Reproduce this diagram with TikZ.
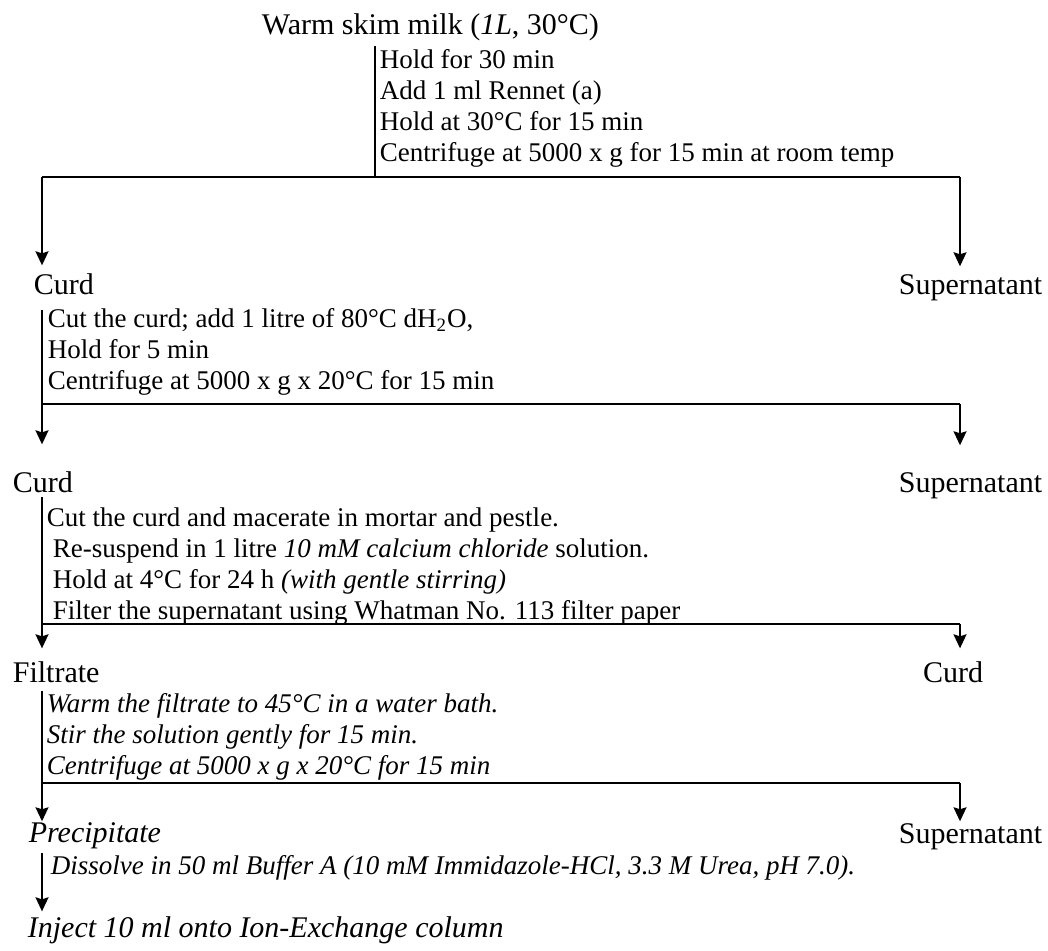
\documentclass[tikz,border=0pt]{standalone}
\usepackage{fontspec}
\setmainfont{Liberation Serif}
\usetikzlibrary{arrows.meta}

\newcommand{\prodfont}{\fontsize{15}{18}\selectfont}
\newcommand{\stepfont}{\fontsize{13.5}{15.5}\selectfont}

\begin{document}
\begin{tikzpicture}
	[x=0.5pt,y=-0.5pt,line width=0.85pt,>={Stealth[length=7pt,width=6.5pt,inset=1pt]},
	every node/.style={inner sep=2pt},
	prod/.style={font=\prodfont},
	steps/.style={font=\stepfont, align=left, anchor=north west, inner sep=0pt}]
	\useasboundingbox (0,0) rectangle (1048,951);

	% products
	\node[prod, anchor=base west] (milk) at (257,35) {Warm skim milk (\textit{1L}, 30°C)};
	\node[prod, anchor=base west] (curd1) at (29,295) {Curd};
	\node[prod, anchor=base east] (sup1) at (1047,295) {Supernatant};
	\node[prod, anchor=base west] (curd2) at (8,492) {Curd};
	\node[prod, anchor=base east] (sup2) at (1047,492) {Supernatant};
	\node[prod, anchor=base west] (filtrate) at (8,682) {Filtrate};
	\node[prod, anchor=base] (curd3) at (953,682) {Curd};
	\node[prod, anchor=base west] (precip) at (24,842) {\textit{Precipitate}};
	\node[prod, anchor=base east] (sup3) at (1047,843) {Supernatant};
	\node[prod, anchor=base west] (inject) at (23,937) {\textit{Inject 10 ml onto Ion-Exchange column}};

	% steps
	\node[steps] (steps0) at (379,48.5) {Hold for 30 min\\Add 1 ml Rennet (a)\\Hold at 30°C for 15 min\\Centrifuge at 5000 x g for 15 min at room temp};
	\node[steps] (steps1) at (47,307.5) {Cut the curd; add 1 litre of 80°C dH\textsubscript{2}O,\\Hold for 5 min\\Centrifuge at 5000 x g x 20°C for 15 min};
	\node[steps] (steps2) at (46,506.5) {Cut the curd and macerate in mortar and pestle.\\
		\hspace*{3pt}Re-suspend in 1 litre \textit{10 mM calcium chloride} solution.\\
		\hspace*{3pt}Hold at 4°C for 24 h \textit{(with gentle stirring)}\\
		\hspace*{3pt}Filter the supernatant using Whatman No. 113 filter paper};
	\node[steps, font=\stepfont\itshape] (steps3) at (46,692.5) {Warm the filtrate to 45°C in a water bath.\\Stir the solution gently for 15 min.\\Centrifuge at 5000 x g x 20°C for 15 min};
	\node[steps, font=\stepfont\itshape] (steps4) at (50,855) {Dissolve in 50 ml Buffer A (10 mM Immidazole-HCl, 3.3 M Urea, pH 7.0).};

	% split points
	\coordinate (s0) at (375,177);
	\coordinate (s0l) at (42,177);
	\coordinate (s0r) at (960,177);
	\coordinate (s1l) at (42,404);
	\coordinate (s1r) at (960,404);
	\coordinate (s2l) at (42,624);
	\coordinate (s2r) at (960,624);
	\coordinate (s3l) at (42,783);
	\coordinate (s3r) at (960,783);

	\draw (milk.south -| s0) -- (s0);
	\draw (s0l) -- (s0r);
	\draw[->, shorten >=2pt] (s0l) -- (curd1.north -| s0l);
	\draw[->, shorten >=2pt] (s0r) -- (sup1.north -| s0r);

	\draw[shorten <=5pt] (curd1.south -| s1l) -- (s1l) -- (s1r);
	\draw[->, shorten >=11pt] (s1l) -- (curd2.north -| s1l);
	\draw[->, shorten >=11pt] (s1r) -- (sup2.north -| s1r);

	\draw (curd2.south -| s2l) -- (s2l) -- (s2r);
	\draw[->, shorten >=4pt] (s2l) -- (filtrate.north -| s2l);
	\draw[->, shorten >=4pt] (s2r) -- (curd3.north -| s2r);

	\draw[->, shorten <=2pt, shorten >=-2pt] (filtrate.south -| s3l) -- (precip.north -| s3l);
	\draw (s3l) -- (s3r);
	\draw[->, shorten >=-1.5pt] (s3r) -- (sup3.north -| s3r);

	\draw[->] (precip.south -| s3l) -- (inject.north -| s3l);
\end{tikzpicture}
\end{document}
